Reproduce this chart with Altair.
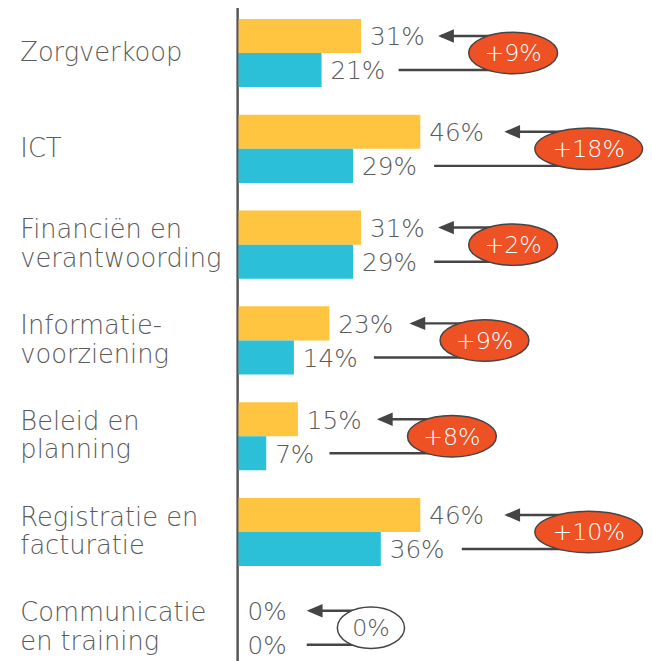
import altair as alt
import pandas as pd

# ---- data ----
categories = [
    "Zorgverkoop",
    "ICT",
    "Financiën en|verantwoording",
    "Informatie-|voorziening",
    "Beleid en|planning",
    "Registratie en|facturatie",
    "Communicatie|en training",
]
series = ["huidig", "vorig"]
current = [31, 46, 31, 23, 15, 46, 0]
previous = [21, 29, 29, 14, 7, 36, 0]
difference = [9, 18, 2, 9, 8, 10, 0]

# ---- styling ----
YELLOW = "#FFC440"
BLUE = "#2BC0D8"
RED = "#EE5124"
INK = "#454545"
TEXT = "#5A5A5A"
FONT = "DejaVu Sans"
WEIGHT = 200
VALUE_SIZE = 25
LINE_H = 29

PLOT_W = 400
PLOT_H = 653
X_MAX = 100
PX = PLOT_W / X_MAX

STEP = 97.0
P_IN = 0.2887
P_OUT = P_IN / 2
FIRST_BAND = 7.0
R0 = FIRST_BAND - STEP * P_OUT
R1 = R0 + STEP * len(categories)

# approximate rendered widths (px) of digits in the value labels
DIGIT_W = {"0": 20, "1": 13, "2": 16, "3": 16, "4": 19, "5": 18,
           "6": 17, "7": 15, "8": 17, "9": 17}


def pct(v):
    return f"{v}%"


def diff_label(d):
    return f"+{d}%" if d > 0 else f"{d}%"


def label_gap_px(v):
    # gap after bar + width of the value label + gap before connector
    return 10 + sum(DIGIT_W[ch] for ch in str(v)) + 25 + 14


ELL_H = 42
ELL_W = {2: 68, 3: 90, 4: 109}


def ellipse_path(w, h):
    k = 0.5523
    r = h / w
    return (
        f"M -1 0 C -1 {-k*r:.4f} {-k:.4f} {-r:.4f} 0 {-r:.4f} "
        f"C {k:.4f} {-r:.4f} 1 {-k*r:.4f} 1 0 "
        f"C 1 {k*r:.4f} {k:.4f} {r:.4f} 0 {r:.4f} "
        f"C {-k:.4f} {r:.4f} -1 {k*r:.4f} -1 0 Z"
    )


# long table for bars + value labels
bar_rows = []
for c, a, b in zip(categories, current, previous):
    bar_rows.append({"cat": c, "series": "huidig", "value": a, "label": pct(a)})
    bar_rows.append({"cat": c, "series": "vorig", "value": b, "label": pct(b)})
bars_df = pd.DataFrame(bar_rows)

# connector + ellipse table
line_rows = []
ell_rows = []
for c, a, b, d in zip(categories, current, previous, difference):
    lab = diff_label(d)
    w = ELL_W[len(lab)]
    tip = a + label_gap_px(a) / PX
    center = tip + (31 + w / 2) / PX
    blue_start = b + label_gap_px(b) / PX
    line_rows.append({"cat": c, "series": "huidig", "x": tip + 3 / PX, "x2": center, "tip": tip})
    line_rows.append({"cat": c, "series": "vorig", "x": blue_start, "x2": center, "tip": None})
    ell_rows.append({"cat": c, "center": center, "diff": d, "dlabel": lab,
                     "shape": ellipse_path(w, ELL_H), "size": w * w})
lines_df = pd.DataFrame(line_rows)
ell_df = pd.DataFrame(ell_rows)

y_enc = alt.Y(
    "cat:N",
    sort=categories,
    scale=alt.Scale(range=[R0, R1], paddingInner=P_IN, paddingOuter=P_OUT),
    axis=alt.Axis(
        title=None,
        offset=1.5,
        labelAlign="left",
        labelPadding=220,
        labelOffset={"condition": {"test": "indexof(datum.value, '|') >= 0",
                                   "value": -LINE_H / 2},
                     "value": 0},
        ticks=False,
        tickSize=0,
        labelFontSize=26,
        labelFont=FONT,
        labelFontWeight=WEIGHT,
        labelColor=TEXT,
        labelLimit=0,
        labelExpr="split(datum.label, '|')",
        labelLineHeight=LINE_H,
        domainColor="#555555",
        domainWidth=2.5,
        grid=False,
    ),
)
y_off = alt.YOffset("series:N", sort=series, scale=alt.Scale(paddingInner=0, paddingOuter=0))
x_scale = alt.Scale(domain=[0, X_MAX], nice=False, zero=True)

bars = alt.Chart(bars_df).mark_bar().encode(
    x=alt.X("value:Q", scale=x_scale, axis=None),
    y=y_enc,
    yOffset=y_off,
    color=alt.Color("series:N", sort=series,
                    scale=alt.Scale(domain=series, range=[YELLOW, BLUE]), legend=None),
)

values = alt.Chart(bars_df).mark_text(
    align="left", baseline="middle", dx=9, dy=1.5, fontSize=VALUE_SIZE, font=FONT,
    fontWeight=WEIGHT, color=TEXT,
).encode(
    x=alt.X("value:Q", scale=x_scale, axis=None),
    y=alt.Y("cat:N", sort=categories),
    yOffset=y_off,
    text="label:N",
)

connectors = alt.Chart(lines_df).mark_rule(color=INK, strokeWidth=2.5).encode(
    x=alt.X("x:Q", scale=x_scale, axis=None),
    x2="x2:Q",
    y=alt.Y("cat:N", sort=categories),
    yOffset=y_off,
)

heads = alt.Chart(lines_df).transform_filter("datum.series == 'huidig'").mark_point(
    shape="M 0 0 L 2 -0.85 L 2 0.85 Z", size=256, filled=True, color=INK, opacity=1,
).encode(
    x=alt.X("tip:Q", scale=x_scale, axis=None),
    y=alt.Y("cat:N", sort=categories),
    yOffset=y_off,
)

ellipses = alt.Chart(ell_df).mark_point(
    filled=True, stroke=INK, strokeWidth=1.5, opacity=1,
).encode(
    x=alt.X("center:Q", scale=x_scale, axis=None),
    y=alt.Y("cat:N", sort=categories),
    shape=alt.Shape("shape:N", scale=None),
    size=alt.Size("size:Q", scale=None),
    fill=alt.condition("datum.diff > 0", alt.value(RED), alt.value("white")),
)

ell_text = alt.Chart(ell_df).mark_text(
    align="center", baseline="middle", dy=1.5, fontSize=24, font=FONT, fontWeight=WEIGHT,
).encode(
    x=alt.X("center:Q", scale=x_scale, axis=None),
    y=alt.Y("cat:N", sort=categories),
    text="dlabel:N",
    color=alt.condition("datum.diff > 0", alt.value("white"), alt.value(TEXT)),
)

chart = (
    alt.layer(bars, connectors, heads, ellipses, ell_text, values)
    .properties(
        width=PLOT_W,
        height=PLOT_H,
        autosize=alt.AutoSizeParams(type="none"),
        padding={"left": 233.5, "top": 0, "right": 10.5, "bottom": 0},
    )
    .configure_view(strokeWidth=0)
)

chart.save("out.html", embed_options={"renderer": "svg", "actions": False})
